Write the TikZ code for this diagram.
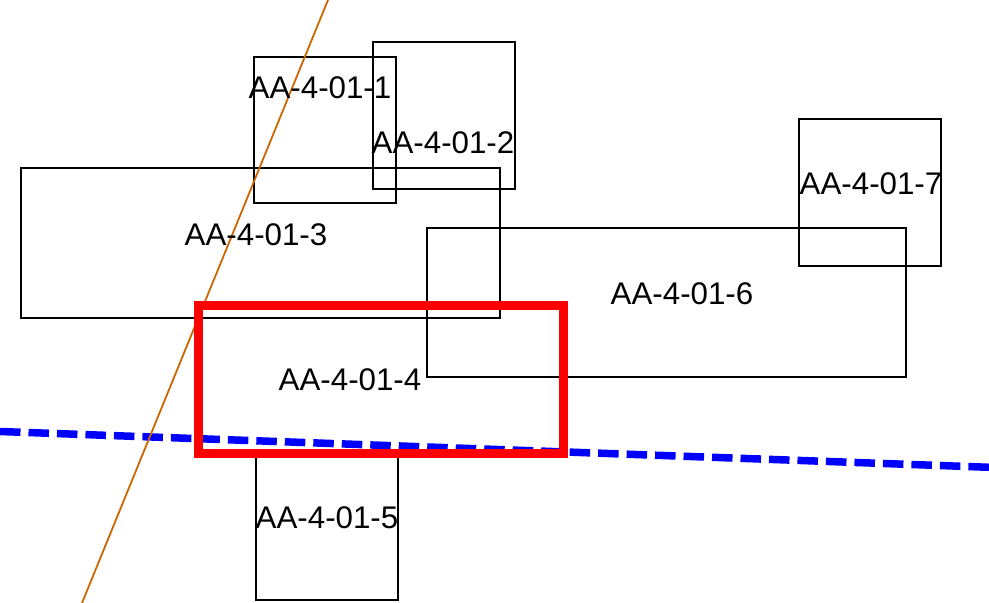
\documentclass[tikz,border=0pt]{standalone}
\usepackage{fontspec}
\setmainfont{Liberation Sans}
\usetikzlibrary{fit}
\tikzset{
  box/.style={draw=black, line width=1.8pt, inner sep=0pt, fill=none},
  redbox/.style={draw=red, line width=9pt, inner sep=0pt},
  lbl/.style={font=\fontsize{31.3}{35}\selectfont, inner sep=0pt, text=black},
  orangeline/.style={draw={rgb,255:red,204;green,102;blue,0}, line width=1.8pt},
  blueline/.style={draw=blue, line width=7.5pt, dash pattern=on 20.5pt off 8pt},
}
\begin{document}
\begin{tikzpicture}[x=1pt,y=-1pt]
\useasboundingbox (0,0) rectangle (989,603);
% black boxes
\node[box, fit={(254,57) (396,203)}] (b1) {};
\node[box, fit={(373,42) (515,189)}] (b2) {};
\node[box, fit={(21,168) (500,318)}] (b3) {};
\node[box, fit={(256,450) (398,600)}] (b5) {};
\node[box, fit={(427,228) (906,377)}] (b6) {};
\node[box, fit={(799,119) (941,266)}] (b7) {};
% lines
\coordinate (bl) at (0,431.5);
\coordinate (br) at (989,467.3);
\draw[blueline] (bl) -- (br);
\coordinate (ot) at (328,0);
\coordinate (ob) at (82,603);
\draw[orangeline] (ot) -- (ob);
% red box
\node[redbox, fit={(198,305) (563,453.5)}] (b4) {};
% labels
\node[lbl] (l1) at (320,88) {AA-4-01-1};
\node[lbl] (l2) at (443,143) {AA-4-01-2};
\node[lbl] (l3) at (256,235) {AA-4-01-3};
\node[lbl] (l4) at (350,380) {AA-4-01-4};
\node[lbl] (l5) at (327,518) {AA-4-01-5};
\node[lbl] (l6) at (682,294) {AA-4-01-6};
\node[lbl] (l7) at (871,184) {AA-4-01-7};
\end{tikzpicture}
\end{document}
